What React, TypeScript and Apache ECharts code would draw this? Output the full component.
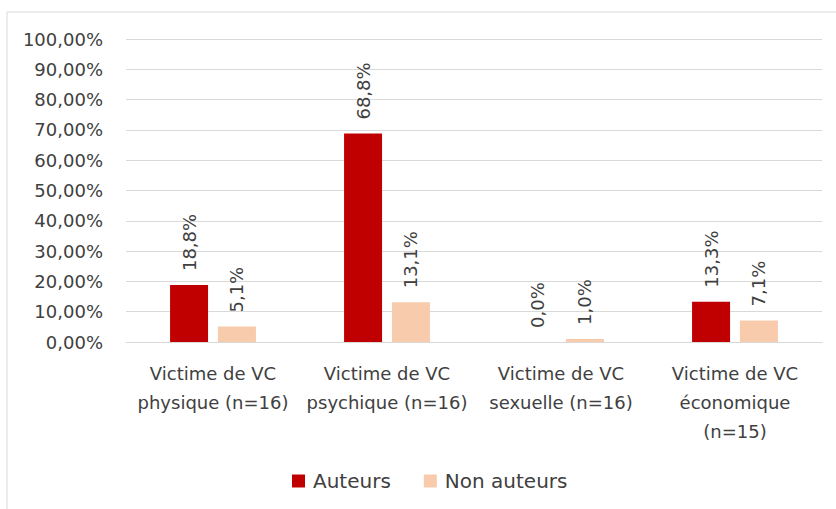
import React, { useEffect, useRef } from "react";
import * as echarts from "echarts";

const categories = [
  "Victime de VC\nphysique (n=16)",
  "Victime de VC\npsychique (n=16)",
  "Victime de VC\nsexuelle (n=16)",
  "Victime de VC\néconomique\n(n=15)",
];
const auteurs = [18.8, 68.8, 0.0, 13.3];
const nonAuteurs = [5.1, 13.1, 1.0, 7.1];
const seriesNames = ["Auteurs", "Non auteurs"];
const yTicks = { min: 0, max: 100, interval: 10 };

const FONT = "'DejaVu Sans', Verdana, sans-serif";
const TXT = "#404040";

export default function App() {
  const ref = useRef<HTMLDivElement>(null);
  useEffect(() => {
    document.body.style.margin = "0";
    const chart = echarts.init(ref.current!, null, { renderer: "svg" });
    const fmt = (v: number) => v.toFixed(1).replace(".", ",") + "%";
    const label = {
      show: true,
      position: "top",
      rotate: 90,
      align: "left",
      verticalAlign: "middle",
      distance: 14,
      color: TXT,
      fontFamily: FONT,
      fontSize: 18,
      formatter: (p: any) => fmt(p.value),
    };
    chart.setOption({
      animation: false,
      backgroundColor: "#ffffff",
      graphic: [
        {
          type: "rect",
          shape: { x: 7, y: 12, width: 840, height: 510 },
          style: { fill: "none", stroke: "#D9D9D9", lineWidth: 1 },
          silent: true,
        },
      ],
      grid: { left: 126, right: 14, top: 39, bottom: 167 },
      legend: {
        left: 287,
        top: 466,
        itemWidth: 13,
        itemHeight: 13,
        itemGap: 33,
        icon: "rect",
        textStyle: { color: TXT, fontFamily: FONT, fontSize: 20, padding: [0, 0, 0, 3] },
        data: seriesNames,
      },
      xAxis: {
        type: "category",
        data: categories,
        axisLine: { show: true, lineStyle: { color: "#D9D9D9", width: 1 } },
        axisTick: { show: false },
        axisLabel: {
          color: TXT,
          fontFamily: FONT,
          fontSize: 18,
          lineHeight: 29,
          margin: 17,
          interval: 0,
        },
      },
      yAxis: {
        type: "value",
        min: yTicks.min,
        max: yTicks.max,
        interval: yTicks.interval,
        axisLine: { show: false },
        axisTick: { show: false },
        splitLine: { lineStyle: { color: "#D9D9D9", width: 1 } },
        axisLabel: {
          color: TXT,
          fontFamily: FONT,
          fontSize: 18,
          margin: 23,
          formatter: (v: number) => v.toFixed(2).replace(".", ",") + "%",
        },
      },
      series: [
        {
          name: seriesNames[0],
          type: "bar",
          data: auteurs,
          itemStyle: { color: "#C00000" },
          barWidth: 38,
          barGap: "26%",
          label,
        },
        {
          name: seriesNames[1],
          type: "bar",
          data: nonAuteurs,
          itemStyle: { color: "#F8CBAD" },
          barWidth: 38,
          label,
        },
      ],
    });
    return () => chart.dispose();
  }, []);
  return <div ref={ref} style={{ width: 836, height: 509 }} />;
}
